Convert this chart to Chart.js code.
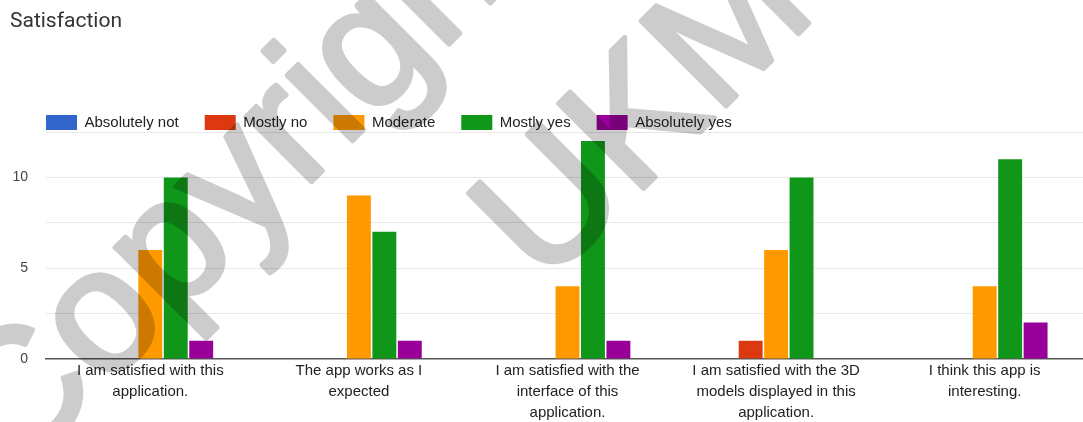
<!DOCTYPE html>
<html>
<head>
<meta charset="utf-8">
<script src="https://cdn.jsdelivr.net/npm/chart.js@4.4.1/dist/chart.umd.min.js"></script>
<style>
  body { margin: 0; background: #fff; overflow: hidden; }
  #wrap { position: relative; width: 1090px; height: 422px; }
  #title { position: absolute; left: 10px; top: 8px; font: 21px Roboto, sans-serif; color: #333; }
</style>
</head>
<body>
<div id="wrap">
  <div id="title">Satisfaction</div>
  <canvas id="satisfaction"></canvas>
</div>
<script>
const categories = [
  ['I am satisfied with this', 'application.'],
  ['The app works as I', 'expected'],
  ['I am satisfied with the', 'interface of this', 'application.'],
  ['I am satisfied with the 3D', 'models displayed in this', 'application.'],
  ['I think this app is', 'interesting.']
];
const absolutelyNot = [0, 0, 0, 0, 0];
const mostlyNo = [0, 0, 0, 1, 0];
const moderate = [6, 9, 4, 6, 4];
const mostlyYes = [10, 7, 12, 10, 11];
const absolutelyYes = [1, 1, 1, 0, 2];
const yTicks = [0, 5, 10];

const makeSet = (label, data, color) => ({
  label: label,
  data: data,
  backgroundColor: color,
  borderWidth: 0,
  categoryPercentage: 0.61,
  barPercentage: 0.94
});

// legend sits tight on top of the plot and starts where the plot starts
const legendFit = {
  id: 'legendFit',
  beforeInit(chart) {
    const fit = chart.legend.fit;
    chart.legend.fit = function () {
      fit.bind(chart.legend)();
      this.height = 43;
    };
  },
  afterLayout(chart) {
    chart.legend.left += 12;
  }
};

// grey diagonal watermark over the picture (drawn solid offscreen, laid on with alpha)
const stamp = (ctx, text, x, y) => {
  ctx.save();
  ctx.font = '175px "Liberation Sans", Arial, sans-serif';
  ctx.textAlign = 'left';
  ctx.textBaseline = 'middle';
  ctx.lineWidth = 5;
  ctx.lineJoin = 'round';
  ctx.translate(x, y);
  ctx.rotate(-45 * Math.PI / 180);
  ctx.fillText(text, 0, 0);
  ctx.strokeText(text, 0, 0);
  ctx.restore();
};
const watermark = {
  id: 'watermark',
  afterDraw(chart) {
    const off = document.createElement('canvas');
    off.width = chart.width;
    off.height = chart.height;
    const octx = off.getContext('2d');
    octx.fillStyle = '#000';
    octx.strokeStyle = '#000';
    stamp(octx, 'Copyright', -20, 445);
    stamp(octx, 'UKM', 510, 254);
    const ctx = chart.ctx;
    ctx.save();
    ctx.globalAlpha = 0.2;
    ctx.drawImage(off, 0, 0, chart.width, chart.height);
    ctx.restore();
  }
};

const config = {
  type: 'bar',
  data: {
    labels: categories,
    datasets: [
      makeSet('Absolutely not', absolutelyNot, '#3366cc'),
      makeSet('Mostly no', mostlyNo, '#dc3912'),
      makeSet('Moderate', moderate, '#ff9900'),
      makeSet('Mostly yes', mostlyYes, '#109618'),
      makeSet('Absolutely yes', absolutelyYes, '#990099')
    ]
  },
  options: {
    responsive: false,
    animation: false,
    layout: { padding: { top: 89, left: 8, right: 1, bottom: -3 } },
    plugins: {
      title: { display: false },
      tooltip: { enabled: false },
      legend: {
        position: 'top',
        align: 'start',
        labels: {
          boxWidth: 31,
          boxHeight: 15,
          padding: 26,
          color: '#222',
          font: { family: '"Liberation Sans", Arial, sans-serif', size: 15 }
        }
      }
    },
    scales: {
      x: {
        grid: { display: false, drawTicks: false },
        border: { color: '#555', width: 1.5 },
        ticks: {
          color: '#222',
          padding: 2,
          maxRotation: 0,
          autoSkip: false,
          font: { family: '"Liberation Sans", Arial, sans-serif', size: 15, lineHeight: 1.38 }
        }
      },
      y: {
        min: 0,
        max: 12.5,
        afterFit(scale) { scale.width = 38; },
        border: { display: false },
        grid: {
          color: ctx => ctx.tick && ctx.tick.value === 0 ? 'rgba(0,0,0,0)' : '#e8e8e8',
          drawTicks: false
        },
        ticks: {
          stepSize: 2.5,
          padding: 18,
          color: '#444',
          font: { family: '"Liberation Sans", Arial, sans-serif', size: 14 },
          callback: value => yTicks.includes(value) ? String(value) : ''
        }
      }
    }
  },
  plugins: [legendFit, watermark]
};

const canvas = document.getElementById('satisfaction');
canvas.width = 1090;
canvas.height = 422;
new Chart(canvas, config);
</script>
</body>
</html>
